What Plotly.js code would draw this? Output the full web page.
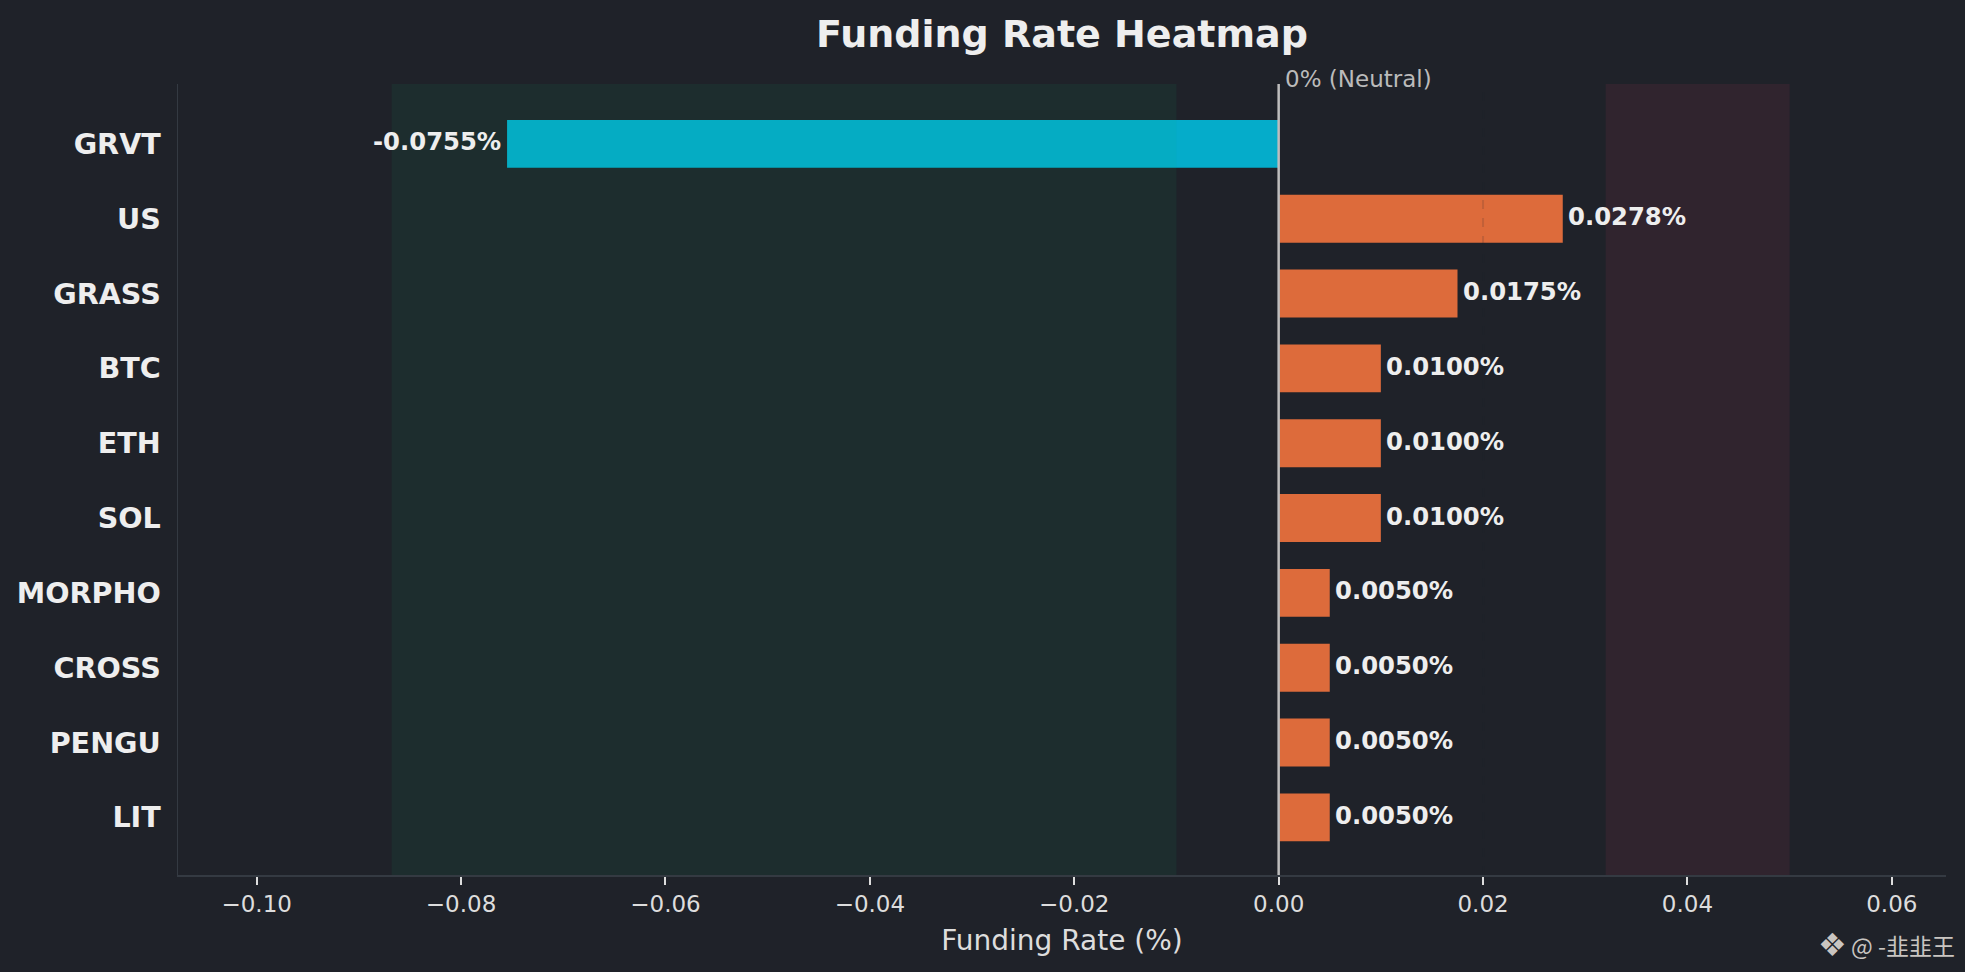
<!DOCTYPE html>
<html>
<head>
<meta charset="utf-8">
<script src="https://cdn.plot.ly/plotly-3.0.1.min.js"></script>
<style>
html,body{margin:0;padding:0;background:#1F2229;}
#chart{width:1965px;height:972px;}
</style>
</head>
<body>
<div id="chart"></div>
<script>
const symbols = ['GRVT','US','GRASS','BTC','ETH','SOL','MORPHO','CROSS','PENGU','LIT'];
const fundingRates = [-0.0755, 0.0278, 0.0175, 0.0100, 0.0100, 0.0100, 0.0050, 0.0050, 0.0050, 0.0050];
const xTickVals = [-0.10, -0.08, -0.06, -0.04, -0.02, 0.00, 0.02, 0.04, 0.06];
const greenZone = [-0.0868, -0.01];
const redZone = [0.032, 0.05];
const warnLine = 0.02;
const xRange = [-0.1077, 0.0653];

const BG = '#1F2229';
const barColors = fundingRates.map(v => v < 0 ? '#05ACCA' : '#DD6B3B');
const labels = fundingRates.map(v => v.toFixed(4) + '%');

const trace = {
  type: 'bar',
  orientation: 'h',
  y: symbols,
  x: fundingRates,
  width: 0.64,
  marker: {color: barColors, line: {width: 0}},
  hoverinfo: 'skip'
};

const valueAnnotations = fundingRates.map((v, i) => ({
  text: labels[i], xref: 'x', yref: 'y', x: v, y: symbols[i],
  xanchor: v < 0 ? 'right' : 'left', yanchor: 'middle',
  xshift: v < 0 ? -4 : 3.5, yshift: 2, showarrow: false,
  font: {family: 'DejaVu Sans', size: 24.3, color: '#EEEEEE', weight: 700}
}));

const layout = {
  width: 1965, height: 972,
  paper_bgcolor: BG, plot_bgcolor: BG,
  margin: {l: 178, r: 19, t: 84, b: 97},
  showlegend: false,
  title: {
    text: 'Funding Rate Heatmap',
    font: {family: 'DejaVu Sans', size: 38, color: '#EEEEEE', weight: 700},
    x: 0.5, xref: 'paper', xanchor: 'center',
    y: 1 - 34/972, yref: 'container', yanchor: 'middle'
  },
  xaxis: {
    range: xRange,
    tickvals: xTickVals,
    tickformat: '.2f',
    ticks: 'outside', ticklen: 8, tickwidth: 2, tickcolor: '#DDDDDD',
    tickfont: {family: 'DejaVu Sans', size: 23, color: '#DDDDDD'},
    showgrid: false, zeroline: false,
    showline: true, linecolor: '#343A42', linewidth: 1.5,
    title: {text: 'Funding Rate (%)', font: {family: 'DejaVu Sans', size: 28, color: '#DDDDDD'}, standoff: 14},
    fixedrange: true
  },
  yaxis: {
    type: 'category',
    range: [9.77, -0.80],
    ticks: '',
    ticklabelstandoff: 10,
    tickfont: {family: 'DejaVu Sans', size: 28.6, color: '#EEEEEE', weight: 700},
    showgrid: false, zeroline: false,
    showline: true, linecolor: '#343A42', linewidth: 1.5,
    fixedrange: true
  },
  shapes: [
    {type: 'rect', xref: 'x', yref: 'paper', x0: greenZone[0], x1: greenZone[1], y0: 0, y1: 1,
     fillcolor: 'rgba(10,184,116,0.08)', line: {width: 0}, layer: 'above'},
    {type: 'rect', xref: 'x', yref: 'paper', x0: redZone[0], x1: redZone[1], y0: 0, y1: 1,
     fillcolor: '#30242E', line: {width: 0}, layer: 'below'},
    {type: 'line', xref: 'x', yref: 'paper', x0: warnLine, x1: warnLine, y0: 0, y1: 1,
     line: {color: 'rgba(31,34,41,0.14)', width: 2, dash: 'dash'}, layer: 'above'},
    {type: 'line', xref: 'x', yref: 'paper', x0: 0, x1: 0, y0: 0, y1: 1,
     line: {color: '#BDBDBD', width: 2.5}, layer: 'above'}
  ],
  annotations: valueAnnotations.concat([
    {text: '0% (Neutral)', xref: 'x', yref: 'paper', x: 0, y: 1, xanchor: 'left', yanchor: 'bottom',
     xshift: 4, yshift: -10, showarrow: false,
     font: {family: 'DejaVu Sans', size: 23, color: '#BBBBBB'}},
    {text: '❖', xref: 'paper', yref: 'paper', x: (1832 - 178)/1768, y: -(945 - 875)/791,
     xanchor: 'center', yanchor: 'middle', showarrow: false,
     font: {family: 'DejaVu Sans', size: 32, color: '#C9C5C1'}},
    {text: '@ -韭韭王', xref: 'paper', yref: 'paper', x: (1957 - 178)/1768, y: -(945 - 875)/791,
     xanchor: 'right', yanchor: 'middle', showarrow: false,
     font: {family: 'Noto Sans CJK SC', size: 23, color: '#C9C5C1'}}
  ])
};

Plotly.newPlot('chart', [trace], layout, {displayModeBar: false, staticPlot: true});
</script>
</body>
</html>
